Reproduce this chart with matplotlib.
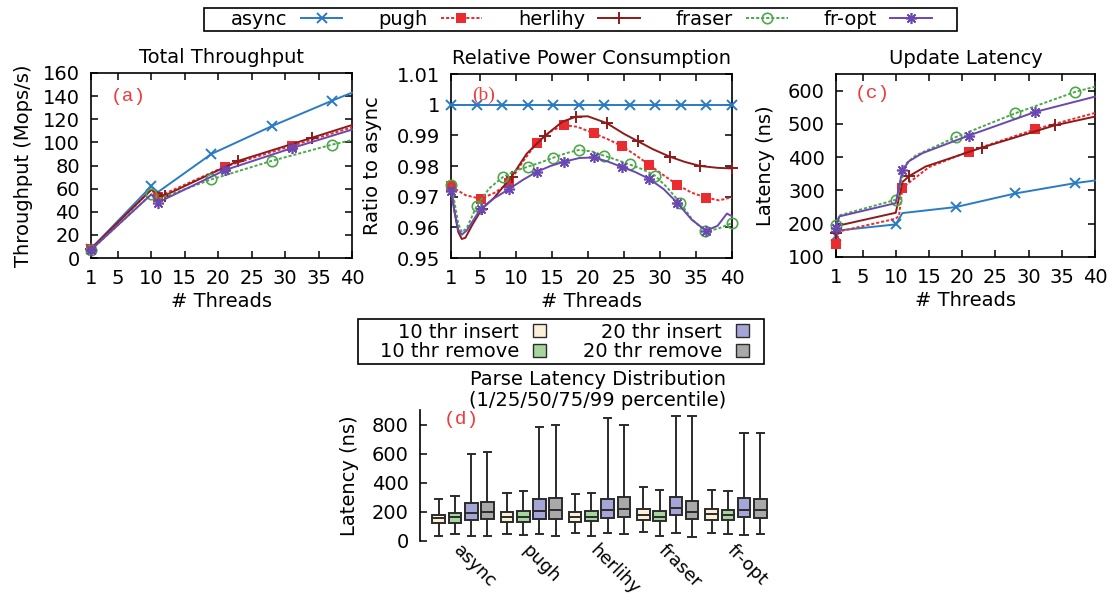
import matplotlib
matplotlib.use('Agg')
import matplotlib.pyplot as plt
from matplotlib.patches import Patch, Rectangle
from matplotlib.lines import Line2D

plt.rcParams['font.family'] = ['DejaVu Sans']
FS = 14

# ---------------- data ----------------
series = ['async', 'pugh', 'herlihy', 'fraser', 'fr-opt']

# (a) Total throughput (Mops/s)
thr_a_x = {
    'async':   [1, 10, 11, 19, 28, 37, 40],
    'pugh':    [1, 10, 11, 21, 31, 40],
    'herlihy': [1, 10, 12, 23, 34, 40],
    'fraser':  [1, 10, 11, 19, 28, 37, 40],
    'fr-opt':  [1, 10, 11, 21, 31, 40],
}
thr_a_y = {
    'async':   [8, 62, 57, 90, 114, 136, 143],
    'pugh':    [8, 59, 53, 79, 97, 113],
    'herlihy': [8, 59, 54, 84, 104, 115],
    'fraser':  [7, 55, 51, 68, 84, 98, 102],
    'fr-opt':  [7, 55, 48, 76, 95, 111],
}
thr_a_marks = {
    'async': [0, 1, 3, 4, 5], 'pugh': [0, 2, 3, 4], 'herlihy': [0, 2, 3, 4],
    'fraser': [0, 1, 3, 4, 5], 'fr-opt': [0, 2, 3, 4],
}

# (b) Relative power consumption (ratio to async)
pow_b_x = {
    'async':   [1, 4.55, 8.09, 11.64, 15.18, 18.73, 22.27, 25.82, 29.36, 32.91, 36.45, 40],
    'pugh':    [1, 3, 5.1, 7, 9.0, 11, 12.9, 15, 16.7, 18.5, 20.8, 22.7, 24.7, 26.6, 28.5,
                30.5, 32.4, 34.4, 36.4, 38.2, 40],
    'herlihy': [1, 1.5, 2, 2.5, 3, 4, 5.3, 7, 9.4, 11.5, 14, 16.5, 18.4, 20, 22.6, 25, 27,
                29, 31.4, 33.5, 35.6, 38, 40],
    'fraser':  [1, 1.5, 2, 2.5, 3.2, 4.6, 6.3, 8.2, 10, 11.7, 13.5, 15.2, 17, 18.7, 20.5,
                22.3, 24, 25.8, 27.5, 29.3, 31, 32.8, 34.5, 36.3, 38, 40],
    'fr-opt':  [1, 1.5, 2, 2.5, 3.2, 5.1, 7, 9, 11, 12.9, 14.8, 16.7, 18.8, 20.8, 22.7, 24.7,
                26.6, 28.5, 30.5, 32.4, 34.4, 36.4, 38, 39.3, 40],
}
pow_b_y = {
    'async':   [1.0, 1.0, 1.0, 1.0, 1.0, 1.0, 1.0, 1.0, 1.0, 1.0, 1.0, 1.0],
    'pugh':    [0.9734, 0.9705, 0.9693, 0.9712, 0.9743, 0.9815, 0.9876, 0.9915, 0.9933, 0.9928,
                0.9907, 0.9888, 0.9865, 0.9836, 0.9804, 0.9770, 0.9739, 0.9713, 0.9697, 0.9688,
                0.9698],
    'herlihy': [0.9730, 0.9650, 0.9585, 0.9562, 0.9566, 0.9610, 0.9660, 0.9697, 0.9765,
                0.9840, 0.9898, 0.9945, 0.9961, 0.9962, 0.9940, 0.9905, 0.9880, 0.9855,
                0.9830, 0.9813, 0.9800, 0.9794, 0.9792],
    'fraser':  [0.9738, 0.9680, 0.9612, 0.9584, 0.9598, 0.9671, 0.9727, 0.9764, 0.9785,
                0.9798, 0.9812, 0.9827, 0.9842, 0.9852, 0.9848, 0.9833, 0.9820, 0.9805,
                0.9790, 0.9769, 0.9730, 0.9680, 0.9625, 0.9587, 0.9595, 0.9614],
    'fr-opt':  [0.9718, 0.9650, 0.9592, 0.9576, 0.9590, 0.9660, 0.9695, 0.9724, 0.9755,
                0.9781, 0.9800, 0.9814, 0.9826, 0.9828, 0.9815, 0.9797, 0.9780, 0.9758,
                0.9725, 0.9680, 0.9625, 0.9589, 0.9605, 0.9645, 0.9636],
}
pow_b_marks = {
    'async': list(range(12)),
    'pugh': [0, 2, 4, 6, 8, 10, 12, 14, 16, 18],
    'herlihy': [6, 8, 10, 12, 14, 16, 18, 20, 22],
    'fraser': [0, 5, 7, 9, 11, 13, 15, 17, 19, 21, 23, 25],
    'fr-opt': [0, 5, 7, 9, 11, 13, 15, 17, 19, 21],
}
pow_b_ticks = [0.95, 0.96, 0.97, 0.98, 0.99, 1.0, 1.01]
pow_b_ticklabels = ['0.95', '0.96', '0.97', '0.98', '0.99', '1', '1.01']

# (c) Update latency (ns)
lat_c_x = {
    'async':   [1, 1.5, 10, 11, 19, 28, 37, 40],
    'pugh':    [1, 1.5, 10, 10.5, 11, 15, 21, 31, 40],
    'herlihy': [1, 1.5, 10, 11, 12, 14.5, 23, 34, 40],
    'fraser':  [1, 1.5, 10, 10.5, 11.5, 13, 19, 28, 37, 40],
    'fr-opt':  [1, 1.5, 10, 11, 12, 14, 21, 31, 40],
}
lat_c_y = {
    'async':   [162, 180, 198, 232, 250, 291, 322, 330],
    'pugh':    [140, 177, 215, 225, 308, 370, 417, 484, 533],
    'herlihy': [172, 195, 233, 325, 343, 372, 429, 496, 522],
    'fraser':  [197, 225, 272, 300, 380, 405, 460, 532, 596, 612],
    'fr-opt':  [187, 222, 262, 361, 388, 412, 465, 536, 582],
}
lat_c_marks = {
    'async': [0, 2, 4, 5, 6], 'pugh': [0, 4, 6, 7], 'herlihy': [0, 4, 6, 7],
    'fraser': [0, 2, 6, 7, 8], 'fr-opt': [0, 3, 6, 7],
}
thread_ticks = [1, 5, 10, 15, 20, 25, 30, 35, 40]

# (d) Parse latency distribution, percentiles per group (async, pugh, herlihy, fraser, fr-opt)
box_groups = ['async', 'pugh', 'herlihy', 'fraser', 'fr-opt']
box_series = ['10 thr insert', '10 thr remove', '20 thr insert', '20 thr remove']
p01 = {
    '10 thr insert': [34, 46, 57, 64, 53],
    '10 thr remove': [48, 39, 34, 37, 48],
    '20 thr insert': [34, 46, 53, 53, 44],
    '20 thr remove': [37, 34, 46, 30, 46],
}
p25 = {
    '10 thr insert': [122, 131, 131, 145, 145],
    '10 thr remove': [122, 131, 138, 138, 143],
    '20 thr insert': [145, 152, 161, 177, 166],
    '20 thr remove': [149, 152, 163, 149, 159],
}
p50 = {
    '10 thr insert': [156, 163, 163, 179, 184],
    '10 thr remove': [163, 168, 168, 168, 177],
    '20 thr insert': [195, 209, 212, 228, 216],
    '20 thr remove': [200, 214, 218, 200, 214],
}
p75 = {
    '10 thr insert': [179, 202, 200, 218, 218],
    '10 thr remove': [191, 209, 205, 209, 212],
    '20 thr insert': [260, 287, 290, 301, 292],
    '20 thr remove': [267, 294, 299, 274, 287],
}
p99 = {
    '10 thr insert': [290, 333, 320, 368, 349],
    '10 thr remove': [306, 343, 329, 352, 345],
    '20 thr insert': [598, 784, 846, 858, 743],
    '20 thr remove': [611, 798, 798, 858, 740],
}

# ---------------- styles ----------------
colors = {'async': '#2a7bc4', 'pugh': '#ea2b2f', 'herlihy': '#8e1b1b',
          'fraser': '#4da84a', 'fr-opt': '#6a48b2'}
dotted = (0, (1.6, 1.0))
styles = {
    'async':   dict(ls='-', marker='x', ms=7, mew=1.4, mfc=colors['async']),
    'pugh':    dict(ls=dotted, marker='s', ms=7, mew=0, mfc=colors['pugh']),
    'herlihy': dict(ls='-', marker='+', ms=9, mew=1.4, mfc=colors['herlihy']),
    'fraser':  dict(ls=dotted, marker='o', ms=7.5, mew=1.2, mfc='none'),
    'fr-opt':  dict(ls='-', marker=(8, 2, 0), ms=8, mew=1.2, mfc=colors['fr-opt']),
}
box_colors = {'10 thr insert': '#fdf0d9', '10 thr remove': '#a7d59e',
              '20 thr insert': '#a5a5d8', '20 thr remove': '#a9a9a9'}
label_red = '#ee3b3b'
edge_dark = '#2b2b2b'

W, H = 1116, 602
fig = plt.figure(figsize=(W / 100, H / 100), dpi=100)


def px_axes(l, t, r, b):
    return fig.add_axes([l / W, 1 - b / H, (r - l) / W, (b - t) / H])


def style_line_axes(ax, ylab, ylab_x, xlab_y, title):
    ax.tick_params(direction='in', length=5, width=1.1, top=True, right=True,
                   labelsize=FS, pad=8)
    for s in ax.spines.values():
        s.set_linewidth(1.2)
    ax.set_xlim(1, 40)
    ax.set_xticks(thread_ticks)
    ax.set_xlabel('# Threads', fontsize=FS, va='top')
    ax.xaxis.set_label_coords(0.5, xlab_y)
    ax.set_ylabel(ylab, fontsize=FS)
    ax.yaxis.set_label_coords(ylab_x, 0.5)
    ax.set_title(title, fontsize=FS, pad=7)


def draw_series(ax, xs, ys, marks):
    for s in series:
        st = styles[s]
        ax.plot(xs[s], ys[s], color=colors[s], lw=1.4, linestyle=st['ls'],
                marker=st['marker'], markersize=st['ms'], markeredgewidth=st['mew'],
                markerfacecolor=st['mfc'], markeredgecolor=colors[s],
                markevery=marks[s], clip_on=False, zorder=3)


def framed_box(l, t, r, b):
    fig.patches.append(Rectangle((l / W, 1 - b / H), (r - l) / W, (b - t) / H,
                                 transform=fig.transFigure, fill=False,
                                 edgecolor='black', linewidth=1.2))


# (a)
axa = px_axes(91, 73, 352, 258)
draw_series(axa, thr_a_x, thr_a_y, thr_a_marks)
axa.set_ylim(0, 160)
axa.set_yticks(range(0, 161, 20))
style_line_axes(axa, 'Throughput (Mops/s)', -0.222, -0.184, 'Total Throughput')
axa.text(0.077, 0.875, '(a)', transform=axa.transAxes, color=label_red,
         fontsize=FS, family='Liberation Mono', va='center')

# (b)
axb = px_axes(451, 74, 732, 258)
draw_series(axb, pow_b_x, pow_b_y, pow_b_marks)
axb.set_ylim(0.95, 1.01)
axb.set_yticks(pow_b_ticks, pow_b_ticklabels)
style_line_axes(axb, 'Ratio to async', -0.245, -0.185, 'Relative Power Consumption')
axb.text(0.075, 0.885, '(b)', transform=axb.transAxes, color=label_red,
         fontsize=FS, family='Liberation Serif', va='center')

# (c)
axc = px_axes(836, 74, 1095, 257)
draw_series(axc, lat_c_x, lat_c_y, lat_c_marks)
axc.set_ylim(100, 650)
axc.set_yticks(range(100, 601, 100))
style_line_axes(axc, 'Latency (ns)', -0.235, -0.186, 'Update Latency')
axc.text(0.073, 0.895, '(c)', transform=axc.transAxes, color=label_red,
         fontsize=FS, family='Liberation Mono', va='center')

# top legend
handles = [Line2D([], [], color=colors[s], lw=1.4, linestyle=styles[s]['ls'],
                  marker=styles[s]['marker'], markersize=styles[s]['ms'],
                  markeredgewidth=styles[s]['mew'], markerfacecolor=styles[s]['mfc'],
                  markeredgecolor=colors[s]) for s in series]
fig.legend(handles, series, loc='center', ncol=5,
           bbox_to_anchor=(581.5 / W, 1 - 19.5 / H),
           borderaxespad=0, markerfirst=False, fontsize=FS, handlelength=2.15,
           handletextpad=0.67, borderpad=0, frameon=False, columnspacing=1.84)
framed_box(204, 8, 957, 31)

# (d)
axd = px_axes(420, 410, 775, 541)
group_step = 4.2
for j, bs in enumerate(box_series):
    stats = []
    pos = []
    for g in range(len(box_groups)):
        stats.append(dict(whislo=p01[bs][g], q1=p25[bs][g], med=p50[bs][g],
                          q3=p75[bs][g], whishi=p99[bs][g], fliers=[]))
        pos.append(g * group_step + j)
    axd.bxp(stats, positions=pos, widths=0.78, capwidths=0.45, patch_artist=True,
            showfliers=False,
            boxprops=dict(facecolor=box_colors[bs], edgecolor=edge_dark, linewidth=1.4),
            medianprops=dict(color=edge_dark, linewidth=1.4),
            whiskerprops=dict(color=edge_dark, linewidth=1.4),
            capprops=dict(color=edge_dark, linewidth=1.4), manage_ticks=False)
axd.set_xlim(-1.15, 20.7)
axd.set_ylim(0, 900)
axd.set_yticks(range(0, 801, 200))
for sp in ['top', 'right', 'bottom']:
    axd.spines[sp].set_visible(False)
axd.spines['left'].set_linewidth(1.2)
axd.tick_params(axis='y', direction='in', length=5, width=1.1, labelsize=FS, pad=8)
axd.set_xticks([g * group_step + 1.5 for g in range(len(box_groups))])
axd.set_xticklabels(box_groups, rotation=-45, ha='left', va='top',
                    rotation_mode='anchor', fontsize=13)
axd.tick_params(axis='x', length=0, pad=0)
axd.set_ylabel('Latency (ns)', fontsize=FS)
axd.yaxis.set_label_coords(-0.172, 0.5)
axd.set_title('Parse Latency Distribution\n(1/25/50/75/99 percentile)',
              fontsize=FS, pad=1, linespacing=1.15)
axd.text(0.3, 834, '(d)', color=label_red, fontsize=FS, family='Liberation Mono',
         va='center')

box_handles = [Patch(facecolor=box_colors[b], edgecolor=edge_dark, linewidth=1.0)
               for b in box_series]
fig.legend(box_handles, box_series, loc='center', ncol=2,
           bbox_to_anchor=(564.5 / W, 1 - 342 / H),
           borderaxespad=0, markerfirst=False, fontsize=FS, handlelength=0.67,
           handleheight=0.62, handletextpad=0.72, borderpad=0, labelspacing=0.05,
           frameon=False, columnspacing=1.9)
framed_box(358, 319, 764, 364)

fig.savefig('out.png', dpi=100)
